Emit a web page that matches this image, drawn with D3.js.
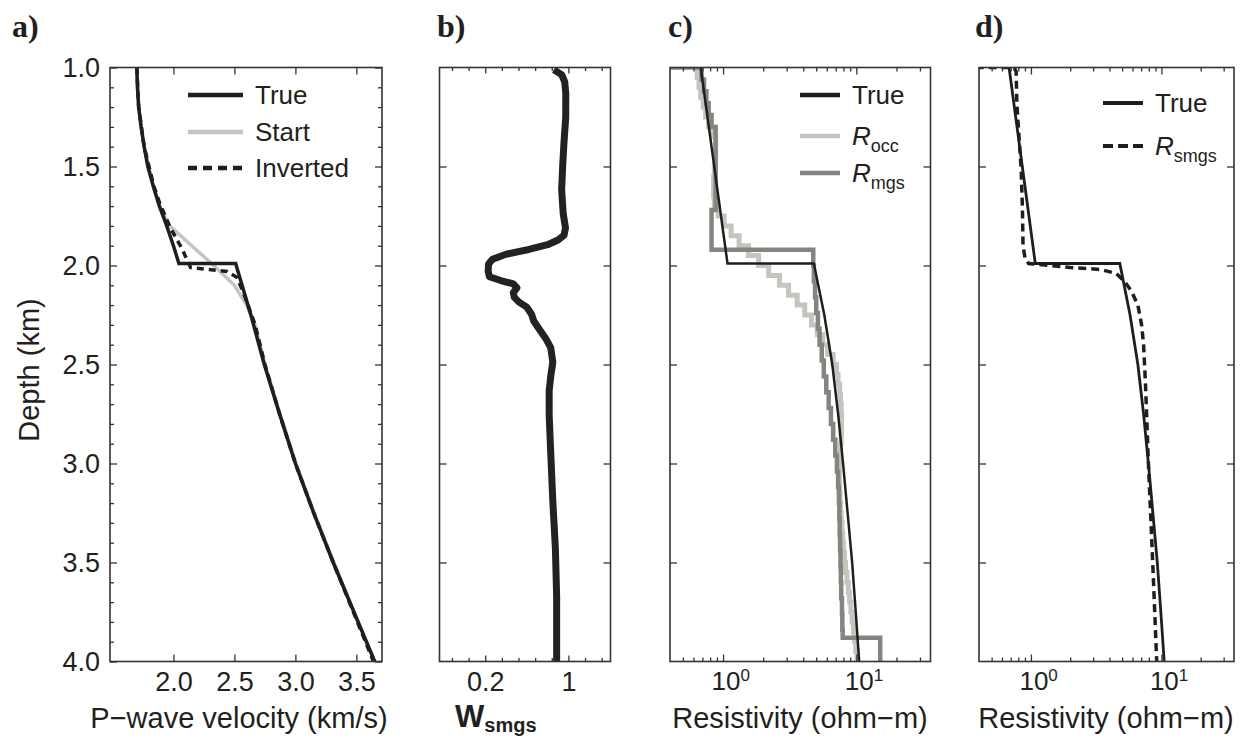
<!DOCTYPE html>
<html>
<head>
<meta charset="utf-8">
<script src="https://cdn.jsdelivr.net/npm/d3@7"></script>
<style>
  body { margin: 0; background: #fff; }
  svg { display: block; }
  text { font-family: "Liberation Sans", Arial, Helvetica, sans-serif; fill: #231f20; }
</style>
</head>
<body>
<svg id="fig" width="1252" height="747"></svg>
<script>
// ---------- shared depth axis ----------
const depthTicks = [1.0, 1.5, 2.0, 2.5, 3.0, 3.5, 4.0];
const depthMinor = [1.1,1.2,1.3,1.4,1.6,1.7,1.8,1.9,2.1,2.2,2.3,2.4,2.6,2.7,2.8,2.9,3.1,3.2,3.3,3.4,3.6,3.7,3.8,3.9];

// ---------- a) P-wave velocity (km/s) ----------
const velTicks = [2.0, 2.5, 3.0, 3.5];
const trueVelDepth = [1.0,1.1,1.2,1.3,1.4,1.5,1.6,1.7,1.8,1.9,1.99,1.99,2.25,2.5,2.75,3.0,3.25,3.5,3.75,4.0];
const trueVel      = [1.70,1.705,1.715,1.735,1.76,1.79,1.835,1.885,1.945,2.0,2.045,2.51,2.635,2.745,2.87,3.0,3.15,3.31,3.48,3.65];
const startVelDepth = [1.0,1.2,1.4,1.6,1.7,1.8,1.9,2.0,2.1,2.2,2.3,2.5,2.75,3.0,3.25,3.5,3.75,4.0];
const startVel      = [1.70,1.715,1.76,1.835,1.885,1.97,2.15,2.33,2.50,2.60,2.67,2.75,2.875,3.005,3.155,3.315,3.48,3.65];
const invVelDepth = [1.0,1.2,1.4,1.6,1.69,1.81,1.915,2.01,2.02,2.03,2.06,2.11,2.18,2.3,2.5,2.75,3.0,3.25,3.5,3.75,4.0];
const invVel      = [1.70,1.715,1.76,1.84,1.89,1.975,2.07,2.14,2.28,2.44,2.52,2.555,2.60,2.67,2.75,2.87,3.0,3.15,3.31,3.475,3.64];

// ---------- b) W_smgs weights ----------
const wTicks = [-0.12, 0.04, 0.2, 0.36, 0.52, 0.68, 0.84, 1.0, 1.16, 1.32];
const wLabeled = [0.2, 1.0];
const wDepth = [1.012,1.036,1.073,1.133,1.254,1.375,1.496,1.617,1.738,1.81,1.847,1.871,1.895,1.919,1.943,1.968,1.992,2.028,2.057,2.076,2.093,2.113,2.137,2.161,2.185,2.21,2.246,2.282,2.318,2.367,2.415,2.488,2.56,2.633,2.754,2.947,3.189,3.431,3.673,4.0];
const wSmgs  = [0.86,0.935,0.965,0.975,0.974,0.958,0.945,0.935,0.95,0.972,0.958,0.90,0.80,0.62,0.40,0.27,0.232,0.228,0.24,0.35,0.47,0.505,0.47,0.48,0.525,0.60,0.645,0.668,0.715,0.78,0.83,0.85,0.83,0.815,0.815,0.83,0.85,0.875,0.887,0.887];

// ---------- c), d) resistivity (ohm-m) ----------
const rhoMajor = [1, 10];
const rhoMinor = [0.5,0.6,0.7,0.8,0.9,2,3,4,5,6,7,8,9,20,30];
const trueRhoDepth = [1.0,1.99,1.99,2.25,2.5,2.75,3.0,3.25,3.5,3.75,4.0];
const trueRho      = [0.68,1.08,4.8,5.75,6.6,7.3,7.95,8.6,9.3,9.9,10.5];

// Occam model: layers 0.05 km thick from 1.0 km
const occThickness = 0.05;
const occRho = [0.64,0.66,0.68,0.71,0.74,0.78,0.84,0.88,0.88,0.87,
                0.86,0.85,0.85,0.86,0.92,1.02,1.15,1.32,1.55,1.85,
                2.2,2.65,3.1,3.6,4.1,4.6,5.1,5.6,6.1,6.7,
                7.1,7.3,7.5,7.6,7.7,7.75,7.75,7.7,7.6,7.5,
                7.45,7.45,7.5,7.55,7.6,7.7,7.8,7.9,8.0,8.15,
                8.3,8.5,8.7,8.9,9.1,9.3,9.5,9.7,9.9,10.1];
const occTop = occRho.map((_, i) => 1 + i * occThickness);

// minimum-gradient-support model: layer tops and values
const mgsSurfaceRho = 0.3;
const mgsTop = [1.00,1.06,1.12,1.18,1.24,1.30,1.72,1.92,2.00,2.08,2.16,2.24,2.32,2.40,2.48,2.56,2.64,2.72,2.80,2.88,2.96,3.04,3.12,3.20,3.28,3.36,3.44,3.52,3.60,3.68,3.76,3.84,3.88];
const mgsRho = [0.69,0.72,0.75,0.78,0.82,0.88,0.82,4.75,4.8,4.9,5.0,5.15,5.3,5.5,5.7,5.95,6.2,6.45,6.7,6.95,7.15,7.3,7.4,7.45,7.5,7.55,7.6,7.65,7.7,7.8,7.85,7.9,15.1];

// smoothed MGS model
const smgsDepth = [1.0,1.0,1.02,1.18,1.35,1.5,1.7,1.9,1.96,1.99,2.01,2.02,2.04,2.08,2.13,2.2,2.3,2.4,2.6,2.8,3.0,3.2,3.4,3.6,3.8,4.0];
const smgsRho   = [0.3,0.74,0.77,0.78,0.81,0.84,0.86,0.87,0.9,0.96,2.0,3.4,4.5,5.2,5.9,6.6,7.05,7.3,7.55,7.75,7.95,8.2,8.45,8.7,8.95,9.2];

// ---------- layout ----------
const svg = d3.select("#fig");
const TOP = 67.5, BOTTOM = 661.5;
const INK = "#231f20", AXIS = "#333";
const BLACK = "#1e1e1e", LIGHT = "#c6c4be", MID = "#85847f";
const y = d3.scaleLinear().domain([1, 4]).range([TOP, BOTTOM]);

const xA = d3.scaleLinear().domain([1.48, 3.71]).range([110, 382]);
const xB = d3.scaleLinear().domain([-0.24, 1.405]).range([439.5, 610.5]);
const xC = d3.scaleLog().domain([0.4, 36]).range([670, 930.5]);
const xD = d3.scaleLog().domain([0.4, 36]).range([979, 1234]);

function panel(id, x) {
  const [l, r] = x.range();
  const g = svg.append("g").attr("id", id);
  g.append("clipPath").attr("id", "clip-" + id)
    .append("rect").attr("x", l).attr("y", TOP).attr("width", r - l).attr("height", BOTTOM - TOP);
  const plot = g.append("g").attr("clip-path", `url(#clip-${id})`);
  return { g, plot, l, r };
}

function styleAxis(sel, fontSize) {
  sel.attr("color", INK).attr("font-family", null).attr("font-size", fontSize || null);
  sel.select(".domain").remove();
  sel.selectAll(".tick line").attr("stroke", AXIS).attr("stroke-width", 1.3);
}

function xTicks(P, x, values, size, fmt, fontSize) {
  const bottom = P.g.append("g").attr("transform", `translate(0,${BOTTOM})`)
    .call(d3.axisBottom(x).tickValues(values).tickSize(-size).tickPadding(10).tickFormat(fmt || (() => "")))
    .call(s => styleAxis(s, fontSize));
  P.g.append("g").attr("transform", `translate(0,${TOP})`)
    .call(d3.axisTop(x).tickValues(values).tickSize(-size).tickFormat(() => ""))
    .call(s => styleAxis(s));
  return bottom;
}

function yTicks(P, values, size, fmt) {
  P.g.append("g").attr("transform", `translate(${P.l},0)`)
    .call(d3.axisLeft(y).tickValues(values).tickSize(-size).tickPadding(10).tickFormat(fmt || (() => "")))
    .call(s => styleAxis(s, 27));
  P.g.append("g").attr("transform", `translate(${P.r},0)`)
    .call(d3.axisRight(y).tickValues(values).tickSize(-size).tickFormat(() => ""))
    .call(s => styleAxis(s));
}

function box(P) {
  P.g.append("rect").attr("x", P.l).attr("y", TOP).attr("width", P.r - P.l).attr("height", BOTTOM - TOP)
    .attr("fill", "none").attr("stroke", AXIS).attr("stroke-width", 1.6);
}

function panelLabel(text, x) {
  svg.append("text").attr("x", x).attr("y", 37).text(text)
    .style("font-family", '"Liberation Serif", "Times New Roman", serif')
    .style("font-weight", "bold").style("font-size", "32px");
}

function xTitle(x, text, anchor) {
  return svg.append("text").attr("x", x).attr("y", 728).attr("text-anchor", anchor || "middle")
    .style("font-size", "29px").text(text);
}

const line = (x) => d3.line().x(d => x(d[0])).y(d => y(d[1]));
const zipXY = (vals, depths) => vals.map((v, i) => [v, depths[i]]);

// staircase: value held constant down each layer to the next layer top
function layers(vals, tops, bottom, surface) {
  const pts = [];
  if (surface !== undefined) pts.push([surface, tops[0]]);
  vals.forEach((v, i) => {
    pts.push([v, tops[i]]);
    pts.push([v, i + 1 < tops.length ? tops[i + 1] : bottom]);
  });
  return pts;
}

function legendEntry(g, x0, x1, yy, stroke, width, dash, label, sub, italic) {
  g.append("line").attr("x1", x0).attr("x2", x1).attr("y1", yy).attr("y2", yy)
    .attr("stroke", stroke).attr("stroke-width", width).attr("stroke-dasharray", dash || null);
  const t = g.append("text").attr("x", x1 + 12).attr("y", yy).attr("dy", "0.36em").style("font-size", "26px");
  const m = t.append("tspan").text(label);
  if (italic) m.style("font-style", "italic");
  if (sub) t.append("tspan").text(sub).attr("dy", 7).style("font-size", "18px");
}

// ---------- panel a ----------
{
  const P = panel("a", xA);
  yTicks(P, depthMinor, 4);
  yTicks(P, depthTicks, 7, d3.format(".1f"));
  xTicks(P, xA, velTicks, 7, d3.format(".1f"), 27);
  P.plot.append("path").datum(zipXY(startVel, startVelDepth)).attr("d", line(xA))
    .attr("fill", "none").attr("stroke", LIGHT).attr("stroke-width", 3.5);
  P.plot.append("path").datum(zipXY(trueVel, trueVelDepth)).attr("d", line(xA))
    .attr("fill", "none").attr("stroke", BLACK).attr("stroke-width", 3.5).attr("stroke-linejoin", "miter");
  P.plot.append("path").datum(zipXY(invVel, invVelDepth)).attr("d", line(xA))
    .attr("fill", "none").attr("stroke", BLACK).attr("stroke-width", 3.5).attr("stroke-dasharray", "7,5");
  box(P);
  const L = P.g.append("g");
  legendEntry(L, 188, 243, 95, BLACK, 4.5, null, "True");
  legendEntry(L, 188, 243, 132, LIGHT, 4.5, null, "Start");
  legendEntry(L, 188, 243, 168, BLACK, 4.5, "9,6", "Inverted");
  panelLabel("a)", 12);
  svg.append("text").attr("transform", "translate(39,370) rotate(-90)").attr("text-anchor", "middle")
    .style("font-size", "29px").text("Depth (km)");
  xTitle(239, "P\u2212wave velocity (km/s)");
}

// ---------- panel b ----------
{
  const P = panel("b", xB);
  yTicks(P, depthTicks.slice(1, -1), 7);
  xTicks(P, xB, wTicks.filter(t => !wLabeled.includes(t)), 3.5);
  xTicks(P, xB, wLabeled, 6, d => (d === 1 ? "1" : d3.format(".1f")(d)), 27);
  P.plot.append("path").datum(zipXY(wSmgs, wDepth)).attr("d", line(xB).curve(d3.curveLinear))
    .attr("fill", "none").attr("stroke", "#222").attr("stroke-width", 7)
    .attr("stroke-linejoin", "round").attr("stroke-linecap", "butt");
  box(P);
  panelLabel("b)", 437);
  const t = svg.append("text").attr("x", 455).attr("y", 727).style("font-weight", "bold");
  t.append("tspan").text("W").style("font-size", "31px");
  t.append("tspan").text("smgs").attr("dy", 5).style("font-size", "20px");
}

// log-axis labels as 10 with a raised exponent
function powerLabels(axisG) {
  axisG.selectAll("g.tick text").each(function (d) {
    const t = d3.select(this).text(null).attr("text-anchor", "start").attr("x", -12);
    t.append("tspan").text("10").style("font-size", "26px");
    t.append("tspan").text(String(Math.round(Math.log10(d)))).attr("dy", "-0.55em").style("font-size", "17px");
  });
}

function rhoAxes(P, x) {
  yTicks(P, depthTicks.slice(1, -1), 7);
  xTicks(P, x, rhoMinor, 4);
  const labelled = xTicks(P, x, rhoMajor, 7, d => String(d), 26);
  powerLabels(labelled);
}

// ---------- panel c ----------
{
  const P = panel("c", xC);
  rhoAxes(P, xC);
  P.plot.append("path").datum(layers(occRho, occTop, 4.0)).attr("d", line(xC))
    .attr("fill", "none").attr("stroke", LIGHT).attr("stroke-width", 5).attr("stroke-linejoin", "miter");
  P.plot.append("path").datum(layers(mgsRho, mgsTop, 4.0, mgsSurfaceRho)).attr("d", line(xC))
    .attr("fill", "none").attr("stroke", MID).attr("stroke-width", 4.5).attr("stroke-linejoin", "miter");
  P.plot.append("path").datum(zipXY(trueRho, trueRhoDepth)).attr("d", line(xC))
    .attr("fill", "none").attr("stroke", BLACK).attr("stroke-width", 2.5);
  box(P);
  const L = P.g.append("g");
  legendEntry(L, 800, 840, 95, BLACK, 4.5, null, "True");
  legendEntry(L, 800, 840, 136, LIGHT, 4.5, null, "R", "occ", true);
  legendEntry(L, 800, 840, 173, MID, 4.5, null, "R", "mgs", true);
  panelLabel("c)", 668);
  xTitle(800, "Resistivity (ohm\u2212m)");
}

// ---------- panel d ----------
{
  const P = panel("d", xD);
  rhoAxes(P, xD);
  P.plot.append("path").datum(zipXY(trueRho, trueRhoDepth)).attr("d", line(xD))
    .attr("fill", "none").attr("stroke", BLACK).attr("stroke-width", 2.8);
  P.plot.append("path").datum(zipXY(smgsRho, smgsDepth)).attr("d", line(xD))
    .attr("fill", "none").attr("stroke", BLACK).attr("stroke-width", 3.5).attr("stroke-dasharray", "8,5");
  box(P);
  const L = P.g.append("g");
  legendEntry(L, 1103, 1143, 103, BLACK, 4, null, "True");
  legendEntry(L, 1103, 1143, 146, BLACK, 4, "10,5", "R", "smgs", true);
  panelLabel("d)", 975);
  xTitle(1106, "Resistivity (ohm\u2212m)");
}
</script>
</body>
</html>
